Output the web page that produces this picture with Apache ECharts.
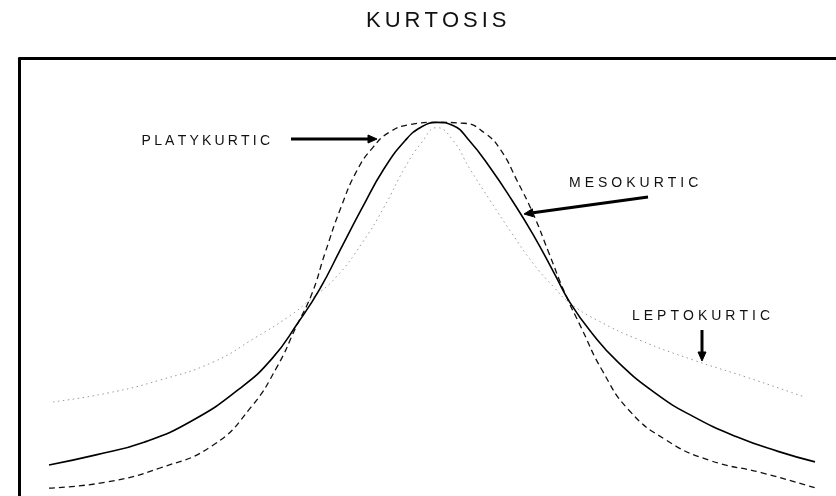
<!DOCTYPE html>
<html>
<head>
<meta charset="utf-8">
<title>Kurtosis</title>
<script src="https://cdn.jsdelivr.net/npm/echarts@6/dist/echarts.min.js"></script>
<style>
html, body { margin: 0; padding: 0; background: #fff; }
#kurtosis { width: 836px; height: 496px; }
</style>
</head>
<body>
<div id="kurtosis"></div>
<script>
// x in standard deviations from the centre, y in % of frame height
var meso_x = [-3.88, -3.41, -2.93, -2.45, -1.97, -1.65, -1.39, -1.17, -0.96, -0.75, -0.53, -0.32, -0.16, 0,
	0.16, 0.32, 0.53, 0.75, 0.96, 1.17, 1.33, 1.55, 1.81, 2.19, 2.56, 2.99, 3.41, 3.78];
var meso_y = [7.1, 9.4, 12.3, 17.2, 24.6, 31.4, 39.6, 47.4, 56.6, 65.8, 74.8, 81.2, 84.3, 85.4,
	84.7, 81.3, 75.1, 67.6, 59.8, 51.0, 44.2, 37.2, 30.6, 23.4, 18.2, 13.6, 10.2, 7.8];

var platy_x = [-3.88, -3.30, -2.77, -2.24, -1.86, -1.60, -1.41, -1.25, -1.12, -0.96, -0.80, -0.64, -0.48, -0.27, 0,
	0.27, 0.48, 0.64, 0.80, 0.96, 1.12, 1.28, 1.44, 1.65, 1.92, 2.29, 2.72, 3.25, 3.79];
var platy_y = [1.8, 3.2, 6.4, 11.6, 20.3, 29.5, 38.6, 46.3, 55.5, 66.0, 74.4, 79.7, 83.1, 84.9, 85.4,
	85.2, 82.9, 79.0, 72.1, 64.6, 55.5, 46.3, 38.6, 28.8, 19.6, 12.8, 8.2, 5.3, 1.8];

var lepto_x = [-3.84, -3.30, -2.77, -2.24, -1.81, -1.49, -1.25, -1.01, -0.75, -0.53, -0.32, -0.16, 0,
	0.16, 0.32, 0.53, 0.75, 0.96, 1.17, 1.33, 1.60, 2.03, 2.56, 3.09, 3.68];
var lepto_y = [21.5, 23.5, 26.5, 30.6, 36.3, 40.9, 45.2, 50.0, 57.8, 66.0, 75.1, 80.6, 84.2,
	81.3, 75.1, 67.6, 60.0, 53.2, 47.7, 44.1, 40.2, 35.6, 31.1, 27.2, 22.6];

var chart_title = "KURTOSIS";
var label_names = ["PLATYKURTIC", "MESOKURTIC", "LEPTOKURTIC"];

function make_points(xs, ys){
	var arr = new Array();
	for(var i = 0; i < xs.length; i++){
		arr[i] = [xs[i], ys[i]];
	}
	return arr;
}

// wrap each letter in a rich token so the padding gives letter spacing
function spaced(str){
	var out = "";
	for(var i = 0; i < str.length; i++){
		out += "{s|" + str.charAt(i) + "}";
	}
	return out;
}

function spaced_text(str, x, y, size, gap){
	return {
		type: 'text',
		x: x,
		y: y,
		style: {
			text: spaced(str),
			align: 'left',
			verticalAlign: 'middle',
			textAlign: 'left',
			textVerticalAlign: 'middle',
			rich: {
				s: {
					fontSize: size,
					fontFamily: 'Liberation Sans',
					fill: '#111',
					padding: [0, gap, 0, gap]
				}
			}
		}
	};
}

function arrow(x1, y1, x2, y2){
	var dx = x2 - x1, dy = y2 - y1;
	var len = Math.sqrt(dx * dx + dy * dy);
	var ux = dx / len, uy = dy / len;
	var head = 9, half = 4;
	var bx = x2 - ux * head, by = y2 - uy * head;
	return [
		{
			type: 'polyline',
			shape: { points: [[x1, y1], [bx, by]] },
			style: { stroke: '#000', lineWidth: 3, fill: null }
		},
		{
			type: 'polygon',
			shape: { points: [[x2, y2], [bx - uy * half, by + ux * half], [bx + uy * half, by - ux * half]] },
			style: { fill: '#000', stroke: '#000', lineWidth: 1 }
		}
	];
}

function chart_kurtosis(){
	var kurtosis = echarts.init(document.getElementById("kurtosis"));
	var graphics = [
		spaced_text(chart_title, 364, 21, 22, 2),
		spaced_text(label_names[0], 140, 141, 14, 1.6),
		spaced_text(label_names[1], 567, 183, 14, 2),
		spaced_text(label_names[2], 630, 316, 14, 2)
	];
	graphics = graphics.concat(arrow(291, 139, 377, 139));
	graphics = graphics.concat(arrow(648, 197, 524, 214));
	graphics = graphics.concat(arrow(702, 330, 702, 361));

	var option = {
		animation: false,
		backgroundColor: '#fff',
		grid: {
			left: 19.5,
			top: 58.5,
			right: 0,
			bottom: 0
		},
		xAxis: {
			type: 'value',
			position: 'top',
			min: -4.175,
			max: 3.99,
			axisLine: { show: true, onZero: false, lineStyle: { color: '#000', width: 3 } },
			axisTick: { show: false },
			axisLabel: { show: false },
			splitLine: { show: false }
		},
		yAxis: {
			type: 'value',
			min: 0,
			max: 100,
			axisLine: { show: true, onZero: false, lineStyle: { color: '#000', width: 3 } },
			axisTick: { show: false },
			axisLabel: { show: false },
			splitLine: { show: false }
		},
		series: [
			{
				name: 'Leptokurtic',
				type: 'line',
				data: make_points(lepto_x, lepto_y),
				smooth: 0.5,
				symbol: 'none',
				lineStyle: { color: '#9a9a9a', width: 1, type: [1.5, 3.5] },
				z: 1
			},
			{
				name: 'Platykurtic',
				type: 'line',
				data: make_points(platy_x, platy_y),
				smooth: 0.5,
				symbol: 'none',
				lineStyle: { color: '#111', width: 1.3, type: [6, 4] },
				z: 2
			},
			{
				name: 'Mesokurtic',
				type: 'line',
				data: make_points(meso_x, meso_y),
				smooth: 0.5,
				symbol: 'none',
				lineStyle: { color: '#000', width: 1.6 },
				z: 3
			}
		],
		graphic: graphics
	};
	kurtosis.setOption(option);
	window.addEventListener("resize", function(){
		kurtosis.resize();
	});
}

chart_kurtosis();
</script>
</body>
</html>
